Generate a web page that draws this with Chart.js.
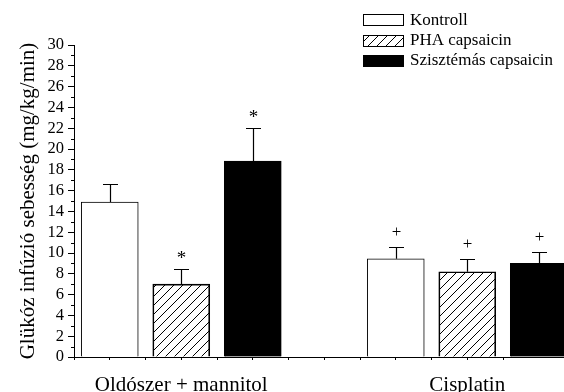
<!DOCTYPE html>
<html><head><meta charset="utf-8">
<script src="https://cdn.jsdelivr.net/npm/chart.js@4.4.0/dist/chart.umd.min.js"></script>
<style>html,body{margin:0;padding:0;background:#fff;overflow:hidden}#wrap{width:564px;height:392px}</style>
</head><body><div id="wrap"><canvas id="c" width="564" height="392"></canvas></div>
<script>
const groups = ['Oldószer + mannitol', 'Cisplatin'];
const seriesNames = ['Kontroll', 'PHA capsaicin', 'Szisztémás capsaicin'];
const kontroll = [14.9, 9.45];
const pha = [7.0, 8.2];
const szisztemas = [18.85, 9.0];
const kontrollErr = [1.75, 1.15];
const phaErr = [1.45, 1.25];
const szisztemasErr = [3.15, 1.05];
const kontrollMark = ['', '+'];
const phaMark = ['*', '+'];
const szisztemasMark = ['*', '+'];
const yMin = 0, yMax = 30, yStep = 2;
const yTitle = 'Glükóz infúzió sebesség (mg/kg/min)';

const FONT = '"Liberation Serif", "Times New Roman", serif';
const canvas = document.getElementById('c');
const mainCtx = canvas.getContext('2d');
function hatch(){
  const c = document.createElement('canvas'); c.width = 9; c.height = 9;
  const g = c.getContext('2d');
  g.strokeStyle = '#000'; g.lineWidth = 1;
  g.beginPath();
  g.moveTo(-1,10); g.lineTo(10,-1);
  g.moveTo(-1,1); g.lineTo(1,-1);
  g.moveTo(8,10); g.lineTo(10,8);
  g.stroke();
  return mainCtx.createPattern(c, 'repeat');
}
const values = [kontroll, pha, szisztemas];
const errs = [kontrollErr, phaErr, szisztemasErr];
const marks = [kontrollMark, phaMark, szisztemasMark];
const fills = ['#ffffff', hatch(), '#000000'];

const datasets = seriesNames.map((n, si) => ({
  label: n,
  data: groups.map((g, gi) => ({x: gi*4 + si + 1, y: values[si][gi]})),
  backgroundColor: fills[si],
  borderColor: '#000',
  borderWidth: 1,
  barThickness: 57,
  err: errs[si],
  marks: marks[si]
}));

const errPlugin = {
  id: 'errbars',
  afterDatasetsDraw(chart){
    const {ctx, scales:{x, y}} = chart;
    chart.data.datasets.forEach(ds => {
      ds.data.forEach((p, i) => {
        const px = Math.round(x.getPixelForValue(p.x)) + 0.5;
        const yb = y.getPixelForValue(p.y);
        const yt = Math.round(y.getPixelForValue(p.y + ds.err[i])) + 0.5;
        ctx.save();
        ctx.strokeStyle = '#000'; ctx.lineWidth = 1.2;
        ctx.beginPath();
        ctx.moveTo(px, yb); ctx.lineTo(px, yt);
        ctx.moveTo(px - 7.5, yt); ctx.lineTo(px + 7.5, yt);
        ctx.stroke();
        const m = ds.marks[i];
        if (m) {
          ctx.fillStyle = '#000';
          ctx.textAlign = 'center';
          ctx.textBaseline = 'alphabetic';
          if (m === '*') {
            ctx.font = '19px ' + FONT;
            ctx.fillText(m, px, yt - 16 + 0.575*19);
          } else {
            ctx.font = '17px ' + FONT;
            ctx.fillText(m, px, yt - 15 + 0.28*17);
          }
        }
        ctx.restore();
      });
    });
  }
};

const minorPlugin = {
  id: 'minor',
  afterDraw(chart){
    const {ctx, scales:{y}, chartArea} = chart;
    ctx.save();
    ctx.strokeStyle = '#000'; ctx.lineWidth = 1;
    ctx.beginPath();
    for (let v = yMin + yStep/2; v < yMax; v += yStep) {
      const py = Math.round(y.getPixelForValue(v)) + 0.5;
      ctx.moveTo(chartArea.left - 3, py); ctx.lineTo(chartArea.left, py);
    }
    ctx.stroke();
    ctx.restore();
  }
};

const legendPlugin = {
  id: 'customLegend',
  afterDraw(chart){
    const ctx = chart.ctx;
    const rows = [19.5, 40, 60];
    ctx.save();
    chart.data.datasets.forEach((ds, i) => {
      const cy = rows[i];
      const bx = 363.5, by = Math.round(cy - 5.5) + 0.5;
      ctx.fillStyle = ds.backgroundColor;
      ctx.fillRect(bx, by, 40, 11);
      ctx.strokeStyle = '#000'; ctx.lineWidth = 1;
      ctx.strokeRect(bx, by, 40, 11);
      ctx.fillStyle = '#000';
      ctx.font = '17px ' + FONT;
      ctx.textAlign = 'left'; ctx.textBaseline = 'middle';
      ctx.fillText(ds.label, 410, cy + 1);
    });
    ctx.restore();
  }
};

new Chart(canvas, {
  type: 'bar',
  data: { datasets },
  plugins: [errPlugin, minorPlugin, legendPlugin],
  options: {
    responsive: false,
    animation: false,
    grouped: false,
    layout: { padding: {left: 0, right: 0, top: 45, bottom: 0} },
    plugins: { legend: {display: false}, tooltip: {enabled: false} },
    scales: {
      x: {
        type: 'linear', min: 0.5, max: 7.353, offset: false,
        grid: { display: true, drawOnChartArea: false, offset: false, tickLength: 3, color: '#000', tickColor: '#000' },
        border: { display: true, color: '#000', width: 1 },
        ticks: {
          stepSize: 0.5, autoSkip: false, maxRotation: 0, padding: 13,
          color: '#000', font: {family: FONT, size: 21},
          callback: (v) => { const gi = groups.findIndex((g, k) => Math.abs(v - (k*4 + 2)) < 1e-6); return gi >= 0 ? groups[gi] : ''; }
        },
        afterFit(s){ s.height = 35; s.paddingLeft = 0; s.paddingRight = 0; }
      },
      y: {
        min: yMin, max: yMax,
        grid: { display: true, drawOnChartArea: false, tickLength: 6, color: '#000', tickColor: '#000' },
        border: { display: true, color: '#000', width: 1 },
        ticks: { stepSize: yStep, autoSkip: false, padding: 4, color: '#000', font: {family: FONT, size: 16.5} },
        title: { display: true, text: yTitle, color: '#000', font: {family: FONT, size: 21}, padding: {top: 16, bottom: 0} },
        afterFit(s){ s.width = 74; }
      }
    }
  }
});
</script></body></html>
